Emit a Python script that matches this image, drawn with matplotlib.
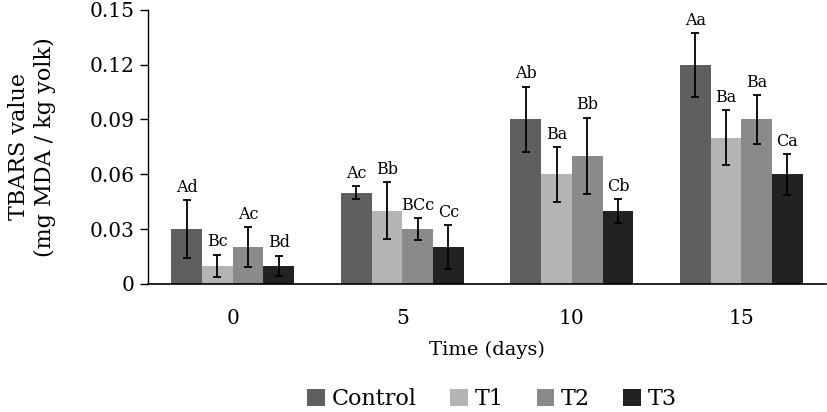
import numpy as np
import matplotlib.pyplot as plt

days = ["0", "5", "10", "15"]
series = ["Control", "T1", "T2", "T3"]
control = [0.03, 0.05, 0.09, 0.12]
t1 = [0.01, 0.04, 0.06, 0.08]
t2 = [0.02, 0.03, 0.07, 0.09]
t3 = [0.01, 0.02, 0.04, 0.06]
control_err = [0.016, 0.0036, 0.018, 0.0175]
t1_err = [0.006, 0.0155, 0.015, 0.015]
t2_err = [0.011, 0.006, 0.021, 0.0135]
t3_err = [0.0055, 0.012, 0.0065, 0.0112]
control_lbl = ["Ad", "Ac", "Ab", "Aa"]
t1_lbl = ["Bc", "Bb", "Ba", "Ba"]
t2_lbl = ["Ac", "BCc", "Bb", "Ba"]
t3_lbl = ["Bd", "Cc", "Cb", "Ca"]

colors = ["#5f5f5f", "#b4b4b4", "#8a8a8a", "#222222"]
values = [control, t1, t2, t3]
errors = [control_err, t1_err, t2_err, t3_err]
labels = [control_lbl, t1_lbl, t2_lbl, t3_lbl]

plt.rcParams["font.family"] = ["DejaVu Serif"]

fig = plt.figure(figsize=(8.27, 4.12), dpi=100)
ax = fig.add_axes([0.179, 0.311, 0.82, 0.665])

x = np.arange(len(days))
width = 0.181
for i in range(4):
    pos = x + (i - 1.5) * width
    ax.bar(pos, values[i], width, color=colors[i], label=series[i])
    ax.errorbar(pos, values[i], yerr=errors[i], fmt="none", ecolor="black",
                elinewidth=1.3, capsize=3, capthick=1.3)
    for j in range(len(days)):
        ax.annotate(labels[i][j], (pos[j], values[i][j] + errors[i][j]),
                    xytext=(0, 3), textcoords="offset points",
                    ha="center", va="bottom", fontsize=11.5)

ax.set_xlim(-0.5, 3.5)
ax.set_ylim(0, 0.15)
ax.set_yticks([0, 0.03, 0.06, 0.09, 0.12, 0.15])
ax.set_yticklabels(["0", "0.03", "0.06", "0.09", "0.12", "0.15"], fontsize=14.5)
ax.set_xticks(x)
ax.set_xticklabels(days, fontsize=14.5)
ax.tick_params(axis="x", length=0, pad=18)
ax.tick_params(axis="y", length=6, width=1, pad=4)
ax.spines["top"].set_visible(False)
ax.spines["right"].set_visible(False)
ax.spines["left"].set_linewidth(1)
ax.spines["bottom"].set_linewidth(1.2)
ax.set_xlabel("Time (days)", fontsize=14, labelpad=9)
ax.set_ylabel("TBARS value\n(mg MDA / kg yolk)", fontsize=16, labelpad=24)

fig.legend(loc="center", bbox_to_anchor=(0.595, 0.032), ncol=4, frameon=False,
           fontsize=16, handlelength=0.8, handleheight=0.8, handletextpad=0.3,
           columnspacing=1.5)

plt.savefig("out.png", dpi=100)
